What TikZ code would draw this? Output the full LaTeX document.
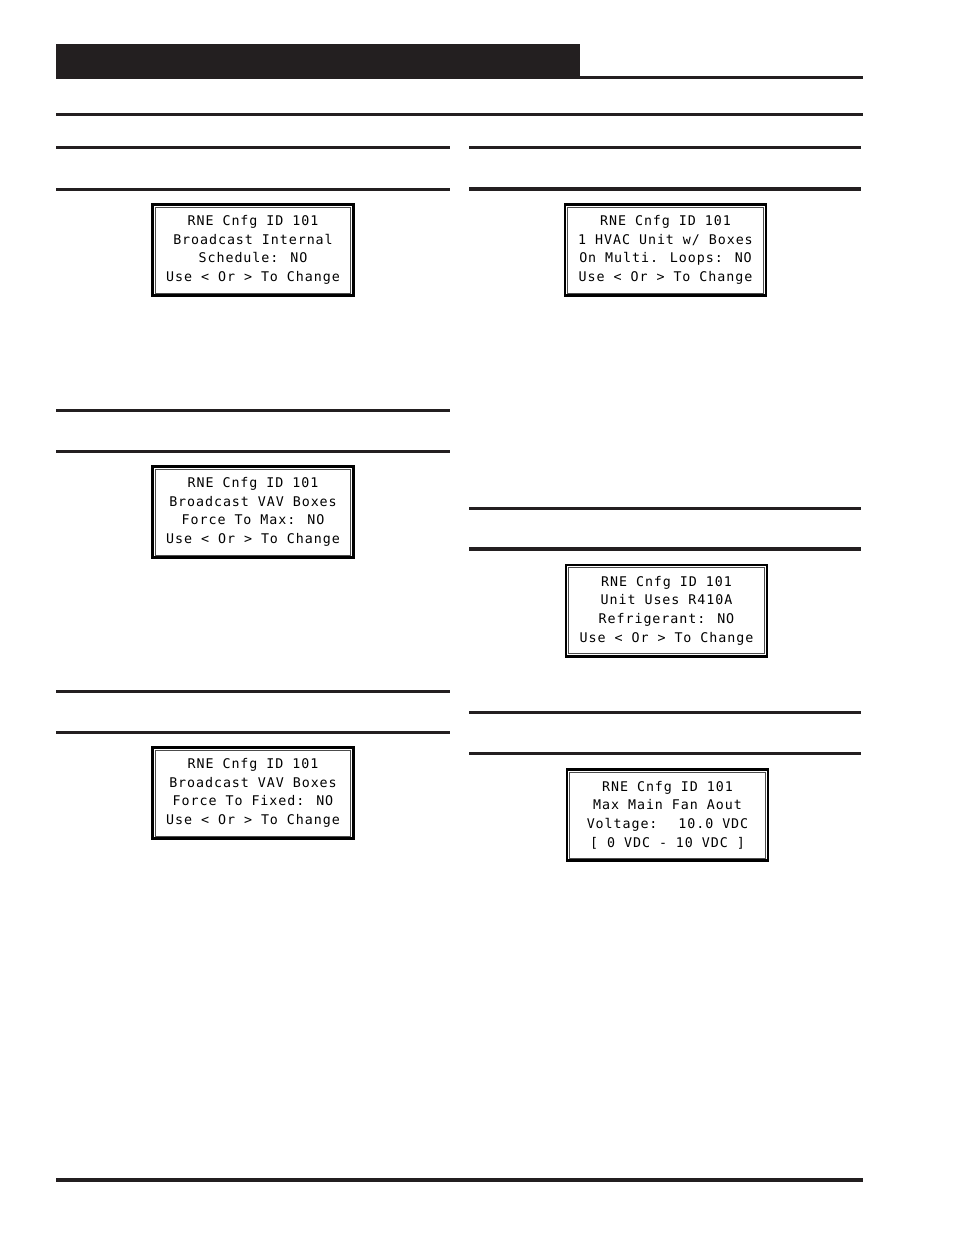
\documentclass[tikz,border=0pt]{standalone}
\usepackage{fontspec}
\newfontfamily\lcdfont{DejaVu Sans Mono}[LetterSpace=7]
\definecolor{barblack}{HTML}{231F20}
\tikzset{
  rule/.style={line width=2.4pt, barblack},
  lcd/.style={draw, line width=2pt, minimum width=150.75pt, minimum height=68.5pt,
    inner sep=0pt, align=center, font=\lcdfont\fontsize{10}{14}\selectfont}
}
\begin{document}
\begin{tikzpicture}[x=0.75pt,y=-0.75pt]
\useasboundingbox (0,0) rectangle (954,1235);
%header
\fill [barblack](56,44) rectangle (580,79);
\draw [rule](580,77.3) -- (863,77.3);
\draw [rule](56,114.3) -- (863,114.3);
\draw [barblack,line width=3pt](56,1180) -- (863,1180);
%section rules
\foreach \y in {147.5,189.5,410.3,451.3,691.3,732.5}{
    \draw [rule](56,\y) -- (450,\y);
};
\foreach \y in {147.5,189,508.3,549,712.3,753.3}{
    \draw [rule](469,\y) -- (861,\y);
};
%screens
\node [lcd] (schedule) at (253,250) {RNE Cnfg ID 101\\Broadcast Internal\\Schedule: NO\\Use < Or > To Change};
\node [lcd] (forcemax) at (253,512) {RNE Cnfg ID 101\\Broadcast VAV Boxes\\Force To Max: NO\\Use < Or > To Change};
\node [lcd] (forcefixed) at (253,793) {RNE Cnfg ID 101\\Broadcast VAV Boxes\\Force To Fixed: NO\\Use < Or > To Change};
\node [lcd] (multiloop) at (665.5,250) {RNE Cnfg ID 101\\1 HVAC Unit w/ Boxes\\On Multi. Loops: NO\\Use < Or > To Change};
\node [lcd] (refrig) at (666.5,610.5) {RNE Cnfg ID 101\\Unit Uses R410A\\Refrigerant: NO\\Use < Or > To Change};
\node [lcd] (fanaout) at (667.5,815) {RNE Cnfg ID 101\\Max Main Fan Aout\\Voltage:~ 10.0 VDC\\{[} 0 VDC - 10 VDC ]};
%inner frames
\foreach \b in {schedule,forcemax,forcefixed,multiloop,refrig,fanaout}{
    \draw [line width=0.6pt,black!70]([shift={(4,4)}]\b.north west) rectangle ([shift={(-4,-4)}]\b.south east);
};
\end{tikzpicture}
\end{document}
